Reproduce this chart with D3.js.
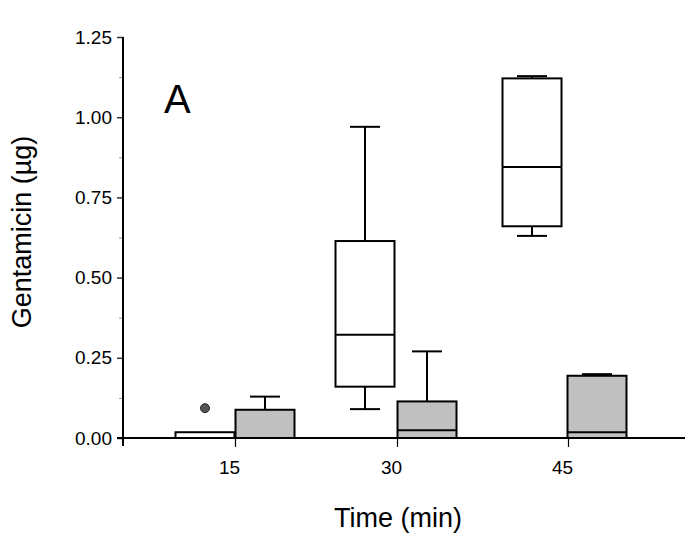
<!DOCTYPE html>
<html><head><meta charset="utf-8">
<script src="https://cdn.jsdelivr.net/npm/d3@7"></script>
<style>body{margin:0;background:#fff}svg{display:block}text{font-family:"Liberation Sans",Arial,sans-serif;fill:#000}</style>
</head><body><svg id="c" width="698" height="548"></svg>
<script>
const categories = ["15", "30", "45"];
const yTickValues = [0, 0.25, 0.5, 0.75, 1.0, 1.25];
const yMinorValues = [0.125, 0.375, 0.625, 0.875, 1.125];
// White (open) boxes
const whiteMin = [0, 0.09, 0.63];
const whiteQ1 = [0, 0.16, 0.66];
const whiteMedian = [0, 0.322, 0.845];
const whiteQ3 = [0.018, 0.614, 1.121];
const whiteMax = [0.018, 0.97, 1.128];
const whiteOutliers = [[0.093], [], []];
// Grey (filled) boxes
const greyMin = [0, 0, 0];
const greyQ1 = [0, 0, 0];
const greyMedian = [0, 0.024, 0.018];
const greyQ3 = [0.088, 0.114, 0.194];
const greyMax = [0.129, 0.27, 0.199];

const svg = d3.select("#c");
const x = d3.scaleOrdinal().domain(categories).range([235, 397, 568]);      // category ticks
const xWhite = d3.scaleOrdinal().domain(categories).range([205, 365, 532]); // open box centres
const xGrey = d3.scaleOrdinal().domain(categories).range([265, 427, 597]);  // grey box centres
const y = d3.scaleLinear().domain([0, 1.25]).range([438, 37]);

const FONT = "Liberation Sans, Arial, sans-serif";

// y axis
const yAxis = svg.append("g").attr("transform", "translate(123,0)")
  .call(d3.axisLeft(y).tickValues(yTickValues).tickFormat(d3.format(".2f")).tickSize(6).tickPadding(5));
yAxis.select(".domain").remove();
yAxis.selectAll(".tick line").attr("stroke", "#333").attr("stroke-width", 1.5);
yAxis.selectAll(".tick text").attr("font-size", 19).style("font-size", "19px").style("font-family", FONT).attr("fill", "#000");
const yMinor = svg.append("g").attr("transform", "translate(123,0)")
  .call(d3.axisLeft(y).tickValues(yMinorValues).tickFormat("").tickSize(4));
yMinor.select(".domain").remove();
yMinor.selectAll(".tick line").attr("stroke", "#999").attr("stroke-width", 1);
svg.append("line").attr("x1", 123).attr("x2", 123).attr("y1", y(1.25)).attr("y2", y(0) + 8)
  .attr("stroke", "#000").attr("stroke-width", 2);

// x axis
const xAxis = svg.append("g").attr("transform", `translate(0,${y(0)})`)
  .call(d3.axisBottom(x).tickSize(9).tickPadding(14));
xAxis.select(".domain").remove();
xAxis.selectAll(".tick line").attr("stroke", "#000").attr("stroke-width", 1.2);
xAxis.selectAll(".tick text").attr("font-size", 19).style("font-size", "19px").style("font-family", FONT).attr("dx", -6).attr("fill", "#000");

const boxW = 59, capW = 30;
function drawBoxes(xs, fill, mins, q1s, meds, q3s, maxs) {
  categories.forEach((c, i) => {
    const cx = xs(c), x0 = cx - boxW / 2;
    const g = svg.append("g");
    if (maxs[i] > q3s[i]) {
      g.append("line").attr("x1", cx).attr("x2", cx).attr("y1", y(q3s[i])).attr("y2", y(maxs[i])).attr("stroke", "#000").attr("stroke-width", 2);
      g.append("line").attr("x1", cx - capW / 2).attr("x2", cx + capW / 2).attr("y1", y(maxs[i])).attr("y2", y(maxs[i])).attr("stroke", "#000").attr("stroke-width", 2);
    }
    if (mins[i] < q1s[i]) {
      g.append("line").attr("x1", cx).attr("x2", cx).attr("y1", y(q1s[i])).attr("y2", y(mins[i])).attr("stroke", "#000").attr("stroke-width", 2);
      g.append("line").attr("x1", cx - capW / 2).attr("x2", cx + capW / 2).attr("y1", y(mins[i])).attr("y2", y(mins[i])).attr("stroke", "#000").attr("stroke-width", 2);
    }
    g.append("rect").attr("x", x0).attr("width", boxW).attr("y", y(q3s[i])).attr("height", y(q1s[i]) - y(q3s[i]))
      .attr("fill", fill).attr("stroke", "#000").attr("stroke-width", 2);
    g.append("line").attr("x1", x0).attr("x2", x0 + boxW).attr("y1", y(meds[i])).attr("y2", y(meds[i])).attr("stroke", "#000").attr("stroke-width", 2);
  });
}
drawBoxes(xWhite, "#fff", whiteMin, whiteQ1, whiteMedian, whiteQ3, whiteMax);
drawBoxes(xGrey, "#c0c0c0", greyMin, greyQ1, greyMedian, greyQ3, greyMax);

// outliers
categories.forEach((c, i) => {
  whiteOutliers[i].forEach(v => {
    svg.append("circle").attr("cx", xWhite(c)).attr("cy", y(v)).attr("r", 4.5)
      .attr("fill", "#555").attr("stroke", "#222").attr("stroke-width", 1);
  });
});

// x axis line on top
svg.append("line").attr("x1", 117).attr("x2", 685).attr("y1", y(0)).attr("y2", y(0)).attr("stroke", "#000").attr("stroke-width", 2);

// titles
svg.append("text").attr("x", 398).attr("y", 527).attr("text-anchor", "middle").style("font-size", "27px").text("Time (min)");
svg.append("text").attr("transform", "translate(31,232) rotate(-90)").attr("text-anchor", "middle").style("font-size", "27px").text("Gentamicin (\u00b5g)");
svg.append("text").attr("x", 164).attr("y", 113).style("font-size", "40px").text("A");
</script></body></html>
